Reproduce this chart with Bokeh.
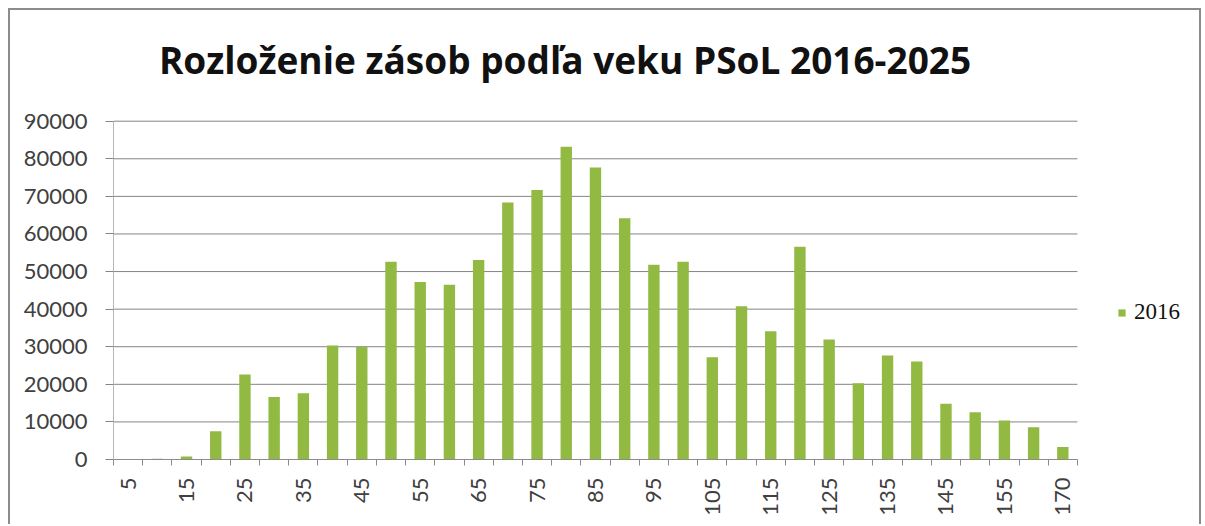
import math
from bokeh.plotting import figure
from bokeh.models import (ColumnDataSource, Range1d, FixedTicker, Label, Legend, LegendItem,
                          BasicTickFormatter)
from bokeh.embed import file_html
from bokeh.resources import INLINE

# ---- data ----
ages = [5, 10, 15, 20, 25, 30, 35, 40, 45, 50, 55, 60, 65, 70, 75, 80, 85, 90, 95, 100,
        105, 110, 115, 120, 125, 130, 135, 140, 145, 150, 155, 160, 170]
stock_2016 = [100, 200, 800, 7500, 22600, 16600, 17600, 30300, 29900, 52600, 47200, 46500,
              53100, 68400, 71700, 83200, 77700, 64200, 51800, 52600, 27200, 40800, 34100,
              56600, 31900, 20300, 27700, 26100, 14800, 12600, 10400, 8600, 3300]
series_name = "2016"
title_text = "Rozloženie zásob podľa veku PSoL 2016-2025"
y_ticks = [0, 10000, 20000, 30000, 40000, 50000, 60000, 70000, 80000, 90000]

# ---- layout constants (pixels) ----
W, H = 1193, 516
left_px, bottom_px = 103, 67
cat_px = 29.21          # width of one category
value_px = 338.3        # height of the 0..max value span
frame_w, frame_h = W - left_px, H - bottom_px
y_max = y_ticks[-1]
n = len(ages)

idx = list(range(n))
src = ColumnDataSource(dict(x=idx, top=stock_2016))

bar_color = "#92ba43"
grid_color = "#858585"

p = figure(width=W, height=H, output_backend="svg", toolbar_location=None,
           x_range=Range1d(-0.5, -0.5 + frame_w / cat_px),
           y_range=Range1d(0, y_max * frame_h / value_px),
           min_border_left=left_px, min_border_right=0, min_border_top=0,
           min_border_bottom=bottom_px,
           background_fill_color="white", border_fill_color="white",
           styles={"margin-left": "8px", "margin-top": "8px",
                   "border-left": "2px solid #8c8c8c", "border-top": "2px solid #8c8c8c",
                   "border-right": "2px solid #8c8c8c"})
p.outline_line_color = None
p.xgrid.visible = False
p.ygrid.visible = False

# horizontal gridlines limited to the category span
p.segment(x0=[-0.5] * len(y_ticks), x1=[n - 0.5] * len(y_ticks), y0=y_ticks, y1=y_ticks,
          line_color=grid_color, line_width=1)

r = p.vbar(x="x", top="top", width=0.39, source=src, fill_color=bar_color, line_color=None)

# y axis
p.yaxis.ticker = FixedTicker(ticks=y_ticks)
p.yaxis.bounds = (0, y_max)
p.yaxis.formatter = BasicTickFormatter(use_scientific=False)
p.yaxis.axis_line_color = "#b8b8b8"
p.yaxis.major_tick_in = 0
p.yaxis.major_tick_out = 8
p.yaxis.major_tick_line_color = grid_color
p.yaxis.minor_tick_line_color = None
p.yaxis.major_label_text_font = "Lato"
p.yaxis.major_label_text_font_size = "22px"
p.yaxis.major_label_text_color = "#404040"
p.yaxis.major_label_standoff = 18

# x axis
p.xaxis.ticker = FixedTicker(ticks=idx[::2], minor_ticks=[i - 0.5 for i in range(n + 1)])
p.xaxis.bounds = (-0.5, n - 0.5)
p.xaxis.major_label_overrides = {i: str(ages[i]) for i in idx[::2]}
p.xaxis.major_label_orientation = math.pi / 2
p.xaxis.axis_line_color = "#8c8c8c"
p.xaxis.major_tick_in = 0
p.xaxis.major_tick_out = 0
p.xaxis.minor_tick_in = 0
p.xaxis.minor_tick_out = 6
p.xaxis.minor_tick_line_color = "#8c8c8c"
p.xaxis.major_label_text_font = "Lato"
p.xaxis.major_label_text_font_size = "22px"
p.xaxis.major_label_text_color = "#404040"
p.xaxis.major_label_standoff = 12

# title
title_cx, title_base = 554.5, 49
p.add_layout(Label(x=-0.5 + (title_cx - left_px) / cat_px,
                   y=(frame_h - title_base) / value_px * y_max,
                   text=title_text, text_align="center", text_baseline="alphabetic",
                   text_font="Open Sans", text_font_style="bold", text_font_size="37px",
                   text_color="#111111"))

# legend
legend = Legend(items=[LegendItem(label=series_name, renderers=[r])],
                location=(1004, 134), border_line_color=None, background_fill_alpha=0,
                padding=0, margin=0, glyph_width=9, glyph_height=9, label_standoff=8,
                label_text_font="Liberation Serif", label_text_font_size="23px",
                label_text_color="#111111", label_height=20)
p.add_layout(legend)

open("out.html", "w").write(file_html(p, INLINE))
